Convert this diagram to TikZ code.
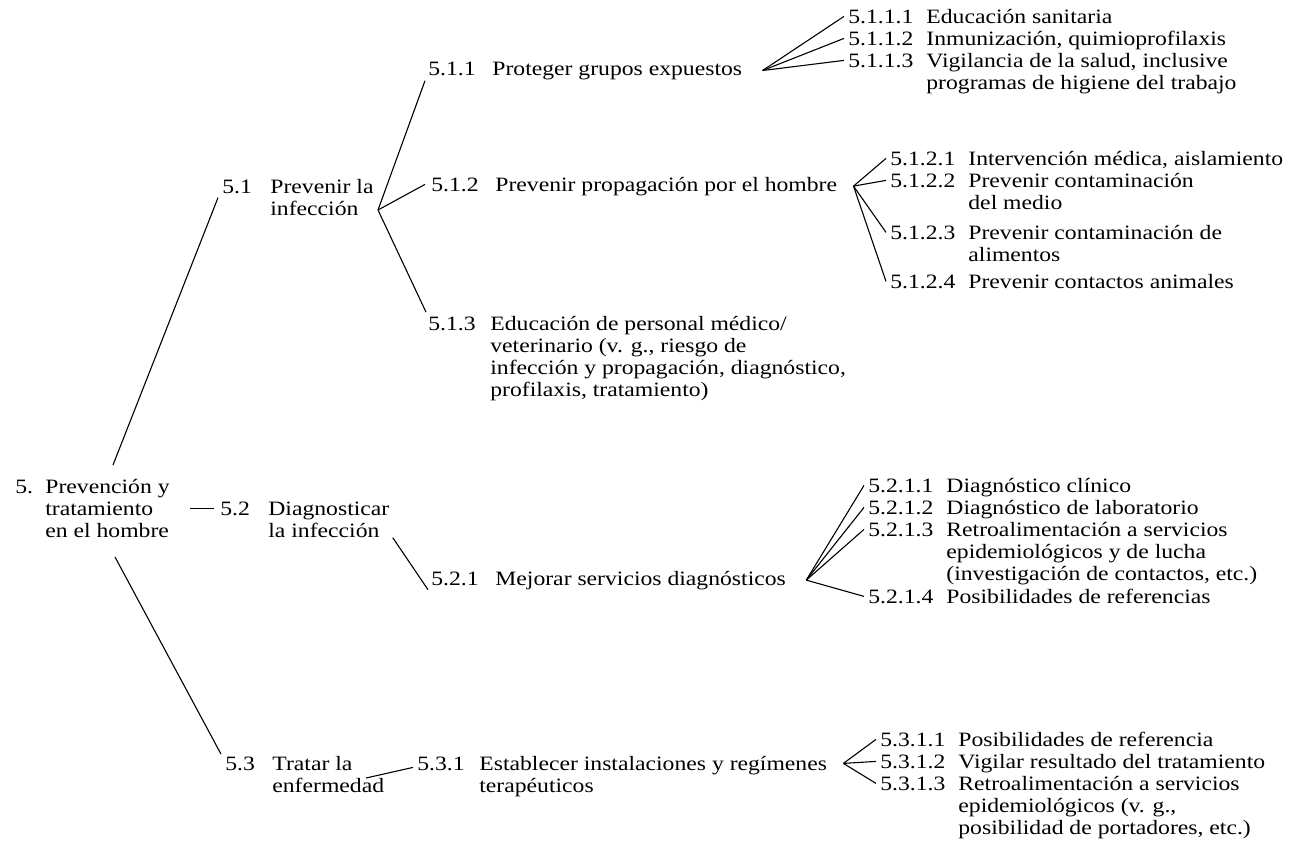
\documentclass[tikz,border=0pt]{standalone}
\usepackage{fontspec}
\setmainfont{Liberation Serif}[FakeStretch=1.16]
\newcommand{\stack}[1]{\begin{tabular}[t]{@{}l@{}}#1\end{tabular}}
\begin{document}
\begin{tikzpicture}[x=0.5pt,y=-0.5pt,
  every node/.style={font=\fontsize{10.2}{11}\selectfont},
  num/.style={anchor=base west, inner sep=0pt},
  lbl/.style={anchor=base west, inner sep=0pt},
  link/.style={line width=0.55pt}]
\useasboundingbox (0,0) rectangle (1294,852);

% level 0
\node[num] (n5) at (15,493) {5.};
\node[lbl] (t5) at (45,493) {\stack{Prevención y\\tratamiento\\en el hombre}};

% level 1
\node[num] (n51) at (222,193) {5.1};
\node[lbl] (t51) at (270,193) {\stack{Prevenir la\\infección}};
\node[num] (n52) at (220,515) {5.2};
\node[lbl] (t52) at (268,515) {\stack{Diagnosticar\\la infección}};
\node[num] (n53) at (225,770) {5.3};
\node[lbl] (t53) at (272,770) {\stack{Tratar la\\enfermedad}};

% level 2
\node[num] (n511) at (428,75) {5.1.1};
\node[lbl] (t511) at (492,75) {Proteger grupos expuestos};
\node[num] (n512) at (431,191) {5.1.2};
\node[lbl] (t512) at (495,191) {Prevenir propagación por el hombre};
\node[num] (n513) at (428,330) {5.1.3};
\node[lbl] (t513) at (490,330) {\stack{Educación de personal médico/\\veterinario (v. g., riesgo de\\infección y propagación, diagnóstico,\\profilaxis, tratamiento)}};
\node[num] (n521) at (431,585) {5.2.1};
\node[lbl] (t521) at (495,585) {Mejorar servicios diagnósticos};
\node[num] (n531) at (417,770) {5.3.1};
\node[lbl] (t531) at (479,770) {\stack{Establecer instalaciones y regímenes\\terapéuticos}};

% level 3 under 5.1.1
\node[num] (n5111) at (848,23) {5.1.1.1};
\node[lbl] at (926,23) {Educación sanitaria};
\node[num] (n5112) at (848,45) {5.1.1.2};
\node[lbl] at (926,45) {Inmunización, quimioprofilaxis};
\node[num] (n5113) at (848,67) {5.1.1.3};
\node[lbl] at (926,67) {\stack{Vigilancia de la salud, inclusive\\programas de higiene del trabajo}};

% level 3 under 5.1.2
\node[num] (n5121) at (890,165) {5.1.2.1};
\node[lbl] at (968,165) {Intervención médica, aislamiento};
\node[num] (n5122) at (890,187) {5.1.2.2};
\node[lbl] at (968,187) {\stack{Prevenir contaminación\\del medio}};
\node[num] (n5123) at (890,239) {5.1.2.3};
\node[lbl] at (968,239) {\stack{Prevenir contaminación de\\alimentos}};
\node[num] (n5124) at (890,288) {5.1.2.4};
\node[lbl] at (968,288) {Prevenir contactos animales};

% level 3 under 5.2.1
\node[num] (n5211) at (868,492) {5.2.1.1};
\node[lbl] at (946,492) {Diagnóstico clínico};
\node[num] (n5212) at (868,514) {5.2.1.2};
\node[lbl] at (946,514) {Diagnóstico de laboratorio};
\node[num] (n5213) at (868,536) {5.2.1.3};
\node[lbl] at (946,536) {\stack{Retroalimentación a servicios\\epidemiológicos y de lucha\\(investigación de contactos, etc.)}};
\node[num] (n5214) at (868,603) {5.2.1.4};
\node[lbl] at (946,603) {Posibilidades de referencias};

% level 3 under 5.3.1
\node[num] (n5311) at (880,746) {5.3.1.1};
\node[lbl] at (958,746) {Posibilidades de referencia};
\node[num] (n5312) at (880,768) {5.3.1.2};
\node[lbl] at (958,768) {Vigilar resultado del tratamiento};
\node[num] (n5313) at (880,790) {5.3.1.3};
\node[lbl] at (958,790) {\stack{Retroalimentación a servicios\\epidemiológicos (v. g.,\\posibilidad de portadores, etc.)}};

% branching points
\coordinate (r51) at (113,465);
\coordinate (r53) at (115,557);
\coordinate (r52) at ([xshift=10]t5.east |- n52.west);
\coordinate (j51) at (378,210);
\coordinate (j511) at ([xshift=10]t511.east);
\coordinate (j512) at ([xshift=8]t512.east);
\coordinate (j52) at ([shift={(3,16)}]t52.east);
\coordinate (j521) at ([xshift=10]t521.east);
\coordinate (j53) at (366,778);
\coordinate (j531) at ([xshift=8]t531.north east |- n531.west);

% connectors
\draw[link] (r51) -- ([shift={(-4,4)}]n51.south west);
\draw[link] (r52) -- ([xshift=-3]n52.west);
\draw[link] (r53) -- ([shift={(-4,-2)}]n53.north west);
\draw[link] (j51) -- ([shift={(-3,5)}]n511.south west);
\draw[link] (j51) -- ([xshift=-3]n512.west);
\draw[link] (j51) -- ([shift={(-2,-4)}]n513.north west);
\foreach \n in {n5111,n5112,n5113} \draw[link] (j511) -- ([xshift=-2]\n.west);
\foreach \n in {n5121,n5122,n5123,n5124} \draw[link] (j512) -- ([xshift=-2]\n.west);
\draw[link] (j52) -- ([shift={(-3,4)}]n521.south west);
\foreach \n in {n5211,n5212,n5213,n5214} \draw[link] (j521) -- ([xshift=-2]\n.west);
\draw[link] (j53) -- ([shift={(-4,4)}]n531.west);
\foreach \n in {n5311,n5312,n5313} \draw[link] (j531) -- ([xshift=-2]\n.west);
\end{tikzpicture}
\end{document}
